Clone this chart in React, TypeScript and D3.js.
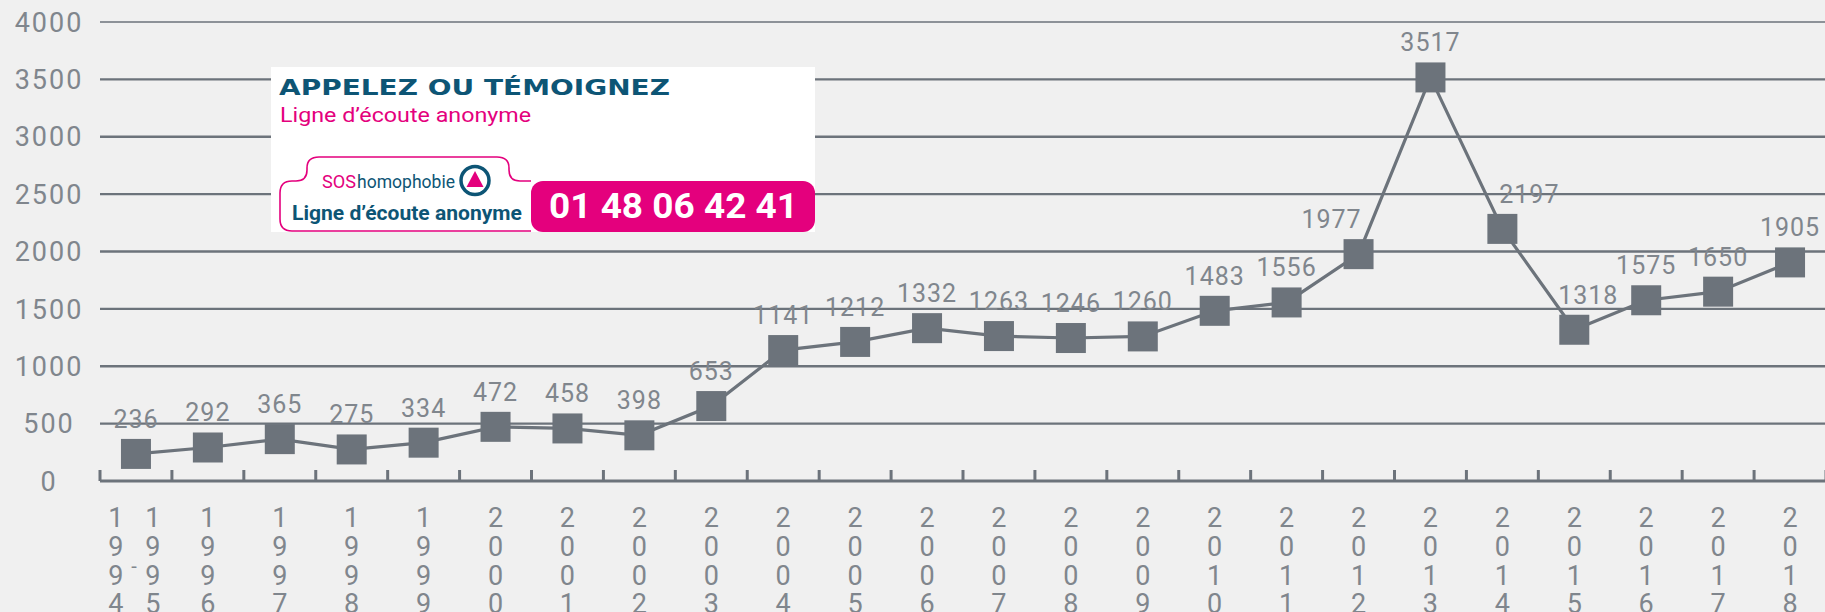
import React from "react";
import * as d3 from "d3";

const categories = ["1994-1995","1996","1997","1998","1999","2000","2001","2002","2003","2004","2005","2006","2007","2008","2009","2010","2011","2012","2013","2014","2015","2016","2017","2018"];
const values = [236,292,365,275,334,472,458,398,653,1141,1212,1332,1263,1246,1260,1483,1556,1977,3517,2197,1318,1575,1650,1905];
const yTicks = [0,500,1000,1500,2000,2500,3000,3500,4000];

const W = 1825, H = 612;
const GRAY = "#6c737b";
const TEXT = "#80868d";
const TEAL = "#0d5575";
const MAGENTA = "#e4007d";
const FONT = "Roboto, 'Liberation Sans', sans-serif";

export default function App() {
  const x = d3.scaleBand<string>().domain(categories).range([100, 1826]).padding(0);
  const y = d3.scaleLinear().domain([0, 4000]).range([481, 22]);
  const cx = (c: string) => (x(c) as number) + x.bandwidth() / 2;
  const line = d3.line<number>().x((_, i) => cx(categories[i])).y((v) => y(v));
  const sq = 30;
  const rowY = [527, 556, 584.5, 613];

  const labelDx = (i: number) => {
    const next = values[i + 1];
    const prev = values[i - 1];
    if (next !== undefined && next - values[i] > 1000) return -27;
    if (prev !== undefined && prev - values[i] > 1200) return 27;
    if (prev !== undefined && prev - values[i] > 800) return 14;
    return 0;
  };

  const outline = [
    "M 531 231",
    "L 292 231",
    "Q 280 231 280 219",
    "L 280 193",
    "Q 280 181 292 181",
    "L 296 181",
    "Q 307 181 307 170",
    "L 307 168",
    "Q 307 157 319 157",
    "L 497 157",
    "Q 509 157 509 168",
    "L 509 170",
    "Q 509 181 520 181",
    "L 531 181",
  ].join(" ");

  return (
    <svg width={W} height={H} style={{ position: "fixed", left: 0, top: 0, background: "#f0f0f0" }} fontFamily={FONT}>
      <rect x={0} y={0} width={W} height={H} fill="#f0f0f0" />
      {yTicks.filter((t) => t > 0).map((t) => (
        <line key={t} x1={100} x2={W} y1={y(t)} y2={y(t)} stroke={GRAY} strokeWidth={t === 4000 ? 1.6 : 2.4} />
      ))}
      {yTicks.map((t) => (
        <text key={t} x={49} y={y(t)} dy="0.36em" textAnchor="middle" fontSize={27} letterSpacing={2} fill={TEXT}>{t}</text>
      ))}
      <line x1={100} x2={W} y1={481} y2={481} stroke={GRAY} strokeWidth={3.2} />
      {d3.range(categories.length + 1).map((i) => {
        const xx = 100 + i * x.bandwidth();
        return <line key={i} x1={xx} x2={xx} y1={470} y2={481} stroke={GRAY} strokeWidth={3} />;
      })}
      {categories.map((c) => {
        const c0 = cx(c);
        if (c.includes("-")) {
          const [a, b] = c.split("-");
          return (
            <g key={c}>
              {a.split("").map((ch, k) => (
                <text key={"a" + k} x={c0 - 20} y={rowY[k]} textAnchor="middle" fontSize={27} fill={TEXT}>{ch}</text>
              ))}
              {b.split("").map((ch, k) => (
                <text key={"b" + k} x={c0 + 17} y={rowY[k]} textAnchor="middle" fontSize={27} fill={TEXT}>{ch}</text>
              ))}
              <text x={c0 - 2} y={rowY[2] - 12} textAnchor="middle" fontSize={20} fill={TEXT}>-</text>
            </g>
          );
        }
        return (
          <g key={c}>
            {c.split("").map((ch, k) => (
              <text key={k} x={c0} y={rowY[k]} textAnchor="middle" fontSize={27} fill={TEXT}>{ch}</text>
            ))}
          </g>
        );
      })}
      <path d={line(values) as string} fill="none" stroke={GRAY} strokeWidth={3.2} />
      {values.map((v, i) => (
        <rect key={i} x={cx(categories[i]) - sq / 2} y={y(v) - sq / 2} width={sq} height={sq} fill={GRAY} />
      ))}
      {values.map((v, i) => (
        <text key={"l" + i} x={cx(categories[i]) + labelDx(i)} y={y(v) - 26} textAnchor="middle" fontSize={25} letterSpacing={1} fill={TEXT}>{v}</text>
      ))}
      <g>
        <rect x={271} y={67} width={544} height={165} fill="#ffffff" />
        <text x={279} y={95} fontFamily="'DejaVu Sans', sans-serif" fontWeight={700} fontSize={21} fill={TEAL} textLength={391} lengthAdjust="spacingAndGlyphs">APPELEZ OU TÉMOIGNEZ</text>
        <text x={280} y={122} fontSize={21} fill={MAGENTA} textLength={251} lengthAdjust="spacingAndGlyphs">Ligne d’écoute anonyme</text>
        <path d={outline} fill="none" stroke={MAGENTA} strokeWidth={1.6} />
        <text x={322} y={188} fontSize={19} fill={MAGENTA} textLength={34} lengthAdjust="spacingAndGlyphs">SOS</text>
        <text x={357} y={188} fontSize={19} fill={TEAL} textLength={98} lengthAdjust="spacingAndGlyphs">homophobie</text>
        <circle cx={475} cy={180.5} r={14} fill="#ffffff" stroke={TEAL} strokeWidth={3.5} />
        <path d="M 475 171 L 483.5 187 L 466.5 187 Z" fill={MAGENTA} />
        <text x={292} y={220} fontSize={21} fontWeight={700} fill={TEAL} textLength={230} lengthAdjust="spacingAndGlyphs">Ligne d’écoute anonyme</text>
        <rect x={531} y={181} width={284} height={51} rx={12} fill={MAGENTA} />
        <text x={549} y={218} fontSize={35} fontWeight={700} fill="#ffffff" textLength={249} lengthAdjust="spacingAndGlyphs">01 48 06 42 41</text>
      </g>
    </svg>
  );
}
